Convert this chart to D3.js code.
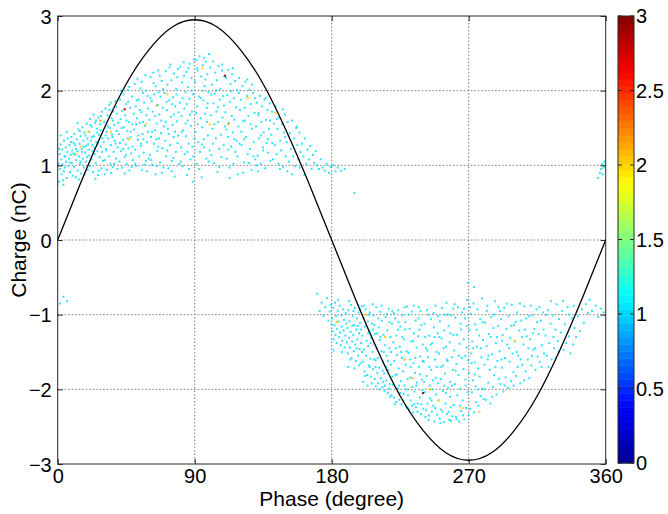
<!DOCTYPE html>
<html>
<head>
<meta charset="utf-8">
<script src="https://cdn.jsdelivr.net/npm/d3@7"></script>
<style>
  body { margin: 0; background: #fff; }
  svg { display: block; font-family: Arial, "Liberation Sans", sans-serif; }
</style>
</head>
<body>
<svg id="chart" width="668" height="514"></svg>
<script>
// axis ticks
const phaseTicks = [0, 90, 180, 270, 360];
const chargeTicks = [-3, -2, -1, 0, 1, 2, 3];
const cbarTicks = [0, 0.5, 1, 1.5, 2, 2.5, 3];

// reference voltage, read every 15 degrees (nC scale)
const wavePhase = [0, 15, 30, 45, 60, 75, 90, 105, 120, 135, 150, 165, 180, 195, 210, 225, 240, 255, 270, 285, 300, 315, 330, 345, 360];
const waveCharge = [0, 0.76, 1.47, 2.09, 2.55, 2.85, 2.95, 2.85, 2.55, 2.09, 1.47, 0.76, 0, -0.76, -1.47, -2.09, -2.55, -2.85, -2.95, -2.85, -2.55, -2.09, -1.47, -0.76, 0];

// discharge pulses [phase, charge], positive half cycle (count value ~1)
const posPulses = [
[0.5,1.02],[0.8,0.78],[1.2,1.15],[1.5,0.95],[1.9,1.28],[2.3,1.08],[2.6,0.88],[3.0,1.21],[3.3,1.01],[3.7,0.74],[4.1,1.33],[4.4,1.12],[4.8,0.97],[5.2,1.24],[5.5,1.05],[5.9,0.83],[6.3,1.18],[6.6,1.36],[7.0,0.99],[7.4,1.09],[7.7,1.27],[8.1,0.91],[8.5,1.14],[8.8,1.31],[9.2,1.03],[9.6,1.2],[9.9,0.86],[2.0,1.4],[6.0,1.45],[4.0,0.92],[7.9,1.04],[1.0,1.22],[5.0,1.12],[3.5,0.8],[9.0,1.38],
[10.3,1.16],[10.7,0.98],[11.0,1.42],[11.4,1.27],[11.8,0.84],[12.1,1.07],[12.5,1.35],[12.9,1.19],[13.2,0.93],[13.6,1.48],[14.0,1.12],[14.3,1.29],[14.7,1.02],[15.1,1.39],[15.4,0.89],[15.8,1.22],[16.2,1.51],[16.5,1.09],[16.9,1.33],[17.3,0.97],[17.6,1.44],[18.0,1.17],[18.4,1.26],[18.7,1.05],[19.1,1.56],[19.5,1.36],[19.8,0.94],[10.5,1.3],[12.0,1.22],[13.8,0.81],[15.0,1.05],[16.0,1.18],[17.0,1.25],[18.2,1.4],[19.3,1.11],[11.2,1.14],[14.5,1.46],[17.8,0.88],[19.9,1.28],[13.0,1.57],
[20.2,1.21],[20.6,1.45],[21.0,0.99],[21.3,1.62],[21.7,1.33],[22.1,1.08],[22.4,1.52],[22.8,1.27],[23.2,0.91],[23.5,1.68],[23.9,1.39],[24.3,1.15],[24.6,1.57],[25.0,1.03],[25.4,1.31],[25.7,1.49],[26.1,1.19],[26.5,0.87],[26.8,1.64],[27.2,1.41],[27.6,1.11],[27.9,1.55],[28.3,1.25],[28.7,0.96],[29.0,1.72],[29.4,1.36],[29.8,1.06],[20.8,1.13],[22.6,1.38],[24.0,1.24],[25.2,1.6],[26.0,1.44],[27.0,0.93],[28.0,1.47],[29.2,1.18],[21.5,1.54],[23.0,1.19],[24.8,0.82],[26.3,1.29],[28.5,1.66],
[30.2,1.31],[30.6,1.58],[31.0,1.07],[31.3,1.76],[31.7,1.22],[32.1,1.45],[32.4,0.94],[32.8,1.67],[33.2,1.36],[33.5,1.12],[33.9,1.81],[34.3,1.5],[34.6,1.02],[35.0,1.27],[35.4,1.63],[35.7,1.41],[36.1,0.98],[36.5,1.72],[36.8,1.18],[37.2,1.54],[37.6,1.33],[37.9,1.86],[38.3,1.09],[38.7,1.46],[39.0,1.69],[39.4,1.24],[39.8,1.57],[30.9,0.88],[32.0,1.2],[33.0,1.52],[34.0,1.74],[35.2,0.9],[36.0,1.38],[37.0,1.02],[38.0,1.29],[39.2,0.95],[31.5,1.4],[34.8,1.84],[36.3,1.6],[38.5,1.78],
[40.2,1.42],[40.6,1.05],[41.0,1.88],[41.3,1.62],[41.7,1.19],[42.1,1.73],[42.4,0.97],[42.8,1.34],[43.2,1.95],[43.5,1.51],[43.9,1.11],[44.3,1.67],[44.6,1.28],[45.0,1.82],[45.4,1.02],[45.7,1.46],[46.1,2.01],[46.5,1.23],[46.8,1.58],[47.2,0.93],[47.6,1.77],[47.9,1.38],[48.3,1.16],[48.7,1.92],[49.0,1.55],[49.4,1.07],[49.8,1.69],[40.9,1.3],[42.0,1.5],[43.0,1.22],[44.0,0.89],[45.2,1.6],[46.0,1.36],[47.0,2.05],[48.0,1.45],[49.2,1.25],[41.5,2.0],[44.8,1.14],[46.3,1.85],[48.5,0.98],
[50.2,1.48],[50.6,2.09],[51.0,1.21],[51.3,1.79],[51.7,0.99],[52.1,1.63],[52.4,2.16],[52.8,1.34],[53.2,1.88],[53.5,1.12],[53.9,1.57],[54.3,2.03],[54.6,1.26],[55.0,1.71],[55.4,0.94],[55.7,1.42],[56.1,1.97],[56.5,1.17],[56.8,1.84],[57.2,1.53],[57.6,2.21],[57.9,1.06],[58.3,1.67],[58.7,1.31],[59.0,1.93],[59.4,1.45],[59.8,1.09],[50.9,1.02],[52.0,1.87],[53.0,1.4],[54.0,1.74],[55.2,2.12],[56.0,1.58],[57.0,1.01],[58.0,2.0],[59.2,1.76],[51.5,1.55],[54.8,1.29],[56.3,1.35],[58.5,0.92],
[60.2,1.61],[60.6,1.14],[61.0,2.18],[61.3,1.38],[61.7,1.86],[62.1,1.01],[62.4,1.72],[62.8,2.24],[63.2,1.29],[63.5,1.95],[63.9,1.47],[64.3,0.88],[64.6,2.06],[65.0,1.56],[65.4,1.19],[65.7,1.81],[66.1,2.27],[66.5,1.36],[66.8,1.68],[67.2,1.04],[67.6,1.92],[67.9,1.43],[68.3,2.13],[68.7,1.23],[69.0,1.77],[69.4,0.97],[69.8,1.52],[60.9,1.9],[62.0,1.45],[63.0,2.1],[64.0,1.66],[65.2,0.99],[66.0,1.25],[67.0,2.2],[68.0,1.6],[69.2,2.02],[61.5,1.07],[64.8,1.35],[66.3,1.98],[68.5,0.9],
[70.2,1.97],[70.6,1.33],[71.0,2.26],[71.3,1.12],[71.7,1.74],[72.1,2.08],[72.4,1.49],[72.8,0.96],[73.2,1.87],[73.5,2.31],[73.9,1.27],[74.3,1.65],[74.6,2.14],[75.0,1.06],[75.4,1.54],[75.7,1.91],[76.1,1.38],[76.5,2.23],[76.8,0.85],[77.2,1.79],[77.6,1.18],[77.9,2.02],[78.3,1.59],[78.7,1.3],[79.0,2.29],[79.4,1.71],[79.8,1.02],[70.9,1.58],[72.0,1.2],[73.0,1.42],[74.0,2.35],[75.2,1.82],[76.0,1.1],[77.0,1.45],[78.0,1.95],[79.2,1.4],[71.5,1.85],[74.8,0.92],[76.3,1.68],[78.5,2.18],
[80.2,1.84],[80.6,2.32],[81.0,1.24],[81.3,1.66],[81.7,2.11],[82.1,0.99],[82.4,1.47],[82.8,2.38],[83.2,1.76],[83.5,1.15],[83.9,1.98],[84.3,1.39],[84.6,2.25],[85.0,0.87],[85.4,1.6],[85.7,2.05],[86.1,1.29],[86.5,1.89],[86.8,2.36],[87.2,1.08],[87.6,1.53],[87.9,2.17],[88.3,1.72],[88.7,0.78],[89.0,1.95],[89.4,2.42],[89.8,1.36],[80.9,1.05],[82.0,1.9],[83.0,2.2],[84.0,1.56],[85.2,1.18],[86.0,2.3],[87.0,1.68],[88.0,2.0],[89.2,1.12],[81.5,1.45],[84.8,1.82],[86.3,0.95],[88.5,1.25],
[90.2,2.12],[90.6,1.45],[91.0,2.41],[91.3,1.02],[91.7,1.79],[92.1,2.27],[92.4,1.31],[92.8,1.92],[93.2,2.46],[93.5,1.18],[93.9,1.63],[94.3,2.19],[94.6,0.84],[95.0,1.51],[95.4,2.34],[95.7,1.87],[96.1,1.24],[96.5,2.06],[96.8,1.69],[97.2,2.39],[97.6,1.09],[97.9,1.77],[98.3,2.22],[98.7,1.4],[99.0,1.98],[99.4,2.49],[99.8,1.2],[90.9,1.7],[92.0,1.55],[93.0,0.95],[94.0,1.9],[95.2,2.0],[96.0,1.35],[97.0,2.15],[98.0,1.58],[99.2,1.05],[91.5,2.3],[94.8,1.28],[96.3,2.44],[98.5,1.83],
[100.2,2.31],[100.6,1.67],[101.0,1.14],[101.3,2.08],[101.7,1.49],[102.1,2.39],[102.4,1.83],[102.8,1.03],[103.2,1.96],[103.5,2.24],[103.9,1.36],[104.3,1.72],[104.6,2.14],[105.0,0.91],[105.4,1.58],[105.7,2.33],[106.1,1.22],[106.5,1.88],[106.8,2.02],[107.2,1.41],[107.6,1.11],[107.9,2.27],[108.3,1.64],[108.7,1.93],[109.0,1.27],[109.4,2.19],[109.8,1.52],[100.9,1.95],[102.0,1.29],[104.0,2.0],[105.2,1.78],[106.0,0.98],[108.0,2.35],[109.2,1.8],[103.0,1.55],
[110.2,1.71],[110.6,2.17],[111.0,1.09],[111.3,1.94],[111.7,1.38],[112.1,2.28],[112.4,1.57],[112.8,0.97],[113.2,1.85],[113.5,2.09],[113.9,1.25],[114.3,1.66],[114.6,2.22],[115.0,1.44],[115.4,1.02],[115.7,1.9],[116.1,1.61],[116.5,2.13],[116.8,1.18],[117.2,1.78],[117.6,1.33],[117.9,2.01],[118.3,0.88],[118.7,1.52],[119.0,1.97],[119.4,1.29],[119.8,1.74],[110.9,1.48],[112.0,1.21],[114.0,1.99],[115.2,2.3],[116.0,1.35],[118.0,1.12],[119.2,2.17],[113.0,0.83],
[120.3,1.88],[120.8,1.27],[121.3,2.06],[121.8,1.59],[122.3,1.04],[122.8,1.77],[123.3,2.12],[123.8,1.38],[124.3,1.93],[124.8,1.15],[125.3,1.66],[125.8,2.01],[126.3,1.22],[126.8,1.82],[127.3,0.94],[127.8,1.49],[128.3,1.97],[128.8,1.31],[129.3,1.7],[129.8,1.08],[120.6,1.45],[121.9,0.9],[123.0,1.6],[124.5,2.15],[125.6,1.03],[126.6,1.55],[127.6,2.08],[128.6,1.12],[129.6,1.9],[122.5,1.35],
[130.3,1.52],[130.8,1.84],[131.3,1.13],[131.8,1.67],[132.3,1.36],[132.8,1.93],[133.3,1.02],[133.8,1.58],[134.3,1.79],[134.8,1.24],[135.3,1.44],[135.8,1.88],[136.3,0.96],[136.8,1.61],[137.3,1.3],[137.8,1.74],[138.3,1.17],[138.8,1.49],[139.3,1.83],[139.8,1.06],[130.6,1.0],[132.0,1.7],[133.6,1.4],[135.0,1.2],[136.6,1.9],[138.0,1.35],[139.5,1.6],[131.5,0.92],
[140.3,1.41],[140.8,1.72],[141.4,1.08],[142.0,1.56],[142.6,1.27],[143.2,1.79],[143.8,1.15],[144.4,1.49],[145.0,1.02],[145.6,1.64],[146.2,1.33],[146.8,1.2],[147.4,1.55],[148.0,0.98],[148.6,1.44],[149.2,1.68],[149.8,1.12],[141.0,1.3],[144.0,1.62],[146.0,0.95],[147.8,1.75],[149.5,1.38],
[150.4,1.31],[151.1,1.58],[151.8,1.05],[152.5,1.43],[153.2,1.22],[153.9,1.6],[154.6,1.12],[155.3,1.36],[156.0,0.99],[156.7,1.5],[157.4,1.27],[158.1,1.08],[158.8,1.44],[159.5,1.18],[150.9,0.92],[154.0,0.88],[157.0,1.52],[159.0,0.97],
[160.5,1.29],[161.4,1.12],[162.3,1.36],[163.2,1.02],[164.1,1.21],[165.0,1.08],[165.9,1.26],[166.8,0.95],[167.7,1.14],[168.6,1.03],[169.5,1.19],[162.0,0.87],
[170.5,1.0],[171.6,0.95],[172.8,1.08],[174.0,0.97],[175.5,0.93],[176.7,1.02],[178.2,0.9],[179.3,0.98],
[181.0,1.0],[182.5,0.92],[184.0,0.97],[186.0,0.93],[188.5,0.95],[195.0,0.63],
[355.0,0.83],[356.2,0.9],[357.0,0.95],[357.8,1.02],[358.5,0.97],[359.2,1.05],[359.6,0.99],[358.0,0.88]
];

// negative half cycle
const negPulses = [
[1.5,-0.85],[3.8,-0.76],[6.2,-0.82],
[170.5,-0.72],[172.0,-0.95],[173.4,-0.84],[174.6,-1.02],[175.8,-0.9],[176.9,-0.78],[177.8,-1.08],[178.7,-0.96],[179.5,-0.87],[179.9,-1.13],
[180.2,-1.05],[180.6,-1.22],[181.0,-0.91],[181.4,-1.33],[181.8,-1.14],[182.1,-0.84],[182.5,-1.27],[182.9,-1.02],[183.3,-1.38],[183.6,-1.19],[184.0,-0.95],[184.4,-1.09],[184.8,-1.3],[185.1,-0.88],[185.5,-1.24],[185.9,-1.41],[186.3,-1.01],[186.6,-1.16],[187.0,-1.35],[187.4,-0.93],[187.8,-1.21],[188.1,-1.07],[188.5,-1.44],[188.9,-1.28],[189.3,-0.98],[189.6,-1.12],[190.0,-1.37],[181.2,-1.48],[184.2,-0.8],[186.8,-1.5],
[190.3,-1.18],[190.6,-1.52],[191.0,-0.94],[191.3,-1.31],[191.7,-1.09],[192.0,-1.44],[192.4,-1.23],[192.7,-0.87],[193.1,-1.58],[193.4,-1.36],[193.8,-1.02],[194.1,-1.27],[194.5,-1.49],[194.8,-1.14],[195.2,-0.91],[195.5,-1.4],[195.9,-1.62],[196.2,-1.2],[196.6,-1.05],[196.9,-1.33],[197.3,-1.55],[197.6,-0.97],[198.0,-1.25],[198.3,-1.46],[198.7,-1.11],[199.0,-1.65],[199.4,-1.38],[199.7,-0.89],[190.9,-1.7],[192.2,-1.6],[193.6,-1.15],[195.0,-1.72],[196.4,-1.45],[197.9,-1.68],[199.2,-1.2],[191.5,-0.82],[194.3,-0.95],[197.1,-1.15],[198.5,-0.93],[199.9,-1.5],
[200.2,-1.28],[200.5,-1.63],[200.9,-1.04],[201.2,-1.47],[201.6,-1.76],[201.9,-1.16],[202.3,-0.93],[202.6,-1.55],[203.0,-1.35],[203.3,-1.81],[203.7,-1.09],[204.0,-1.42],[204.4,-1.68],[204.7,-1.22],[205.1,-0.97],[205.4,-1.59],[205.8,-1.83],[206.1,-1.31],[206.5,-1.12],[206.8,-1.5],[207.2,-1.73],[207.5,-1.01],[207.9,-1.39],[208.2,-1.86],[208.6,-1.26],[208.9,-1.61],[209.3,-0.9],[209.6,-1.45],[209.9,-1.78],[200.7,-1.9],[202.0,-1.82],[203.5,-1.95],[205.0,-1.7],[206.3,-1.92],[207.7,-1.6],[209.0,-1.96],[201.4,-0.88],[204.2,-1.0],[206.9,-0.86],[208.0,-1.14],[203.9,-1.25],[205.6,-1.38],[207.0,-1.2],[208.8,-1.7],[209.8,-1.25],
[210.2,-1.58],[210.5,-1.92],[210.9,-1.17],[211.2,-1.71],[211.6,-1.34],[211.9,-0.96],[212.3,-1.85],[212.6,-1.49],[213.0,-1.08],[213.3,-1.97],[213.7,-1.63],[214.0,-1.27],[214.4,-1.79],[214.7,-2.02],[215.1,-1.41],[215.4,-1.03],[215.8,-1.88],[216.1,-1.55],[216.5,-1.21],[216.8,-2.05],[217.2,-1.74],[217.5,-0.92],[217.9,-1.45],[218.2,-1.93],[218.6,-1.3],[218.9,-1.67],[219.3,-2.08],[219.6,-1.12],[219.9,-1.83],[210.7,-1.05],[212.0,-1.3],[213.5,-1.75],[215.0,-1.95],[216.3,-0.99],[217.7,-1.99],[219.0,-1.5],[211.4,-2.0],[214.2,-1.5],[216.9,-1.62],[218.0,-1.1],[212.8,-0.88],[215.6,-1.7],[218.4,-2.1],[219.8,-0.95],[213.9,-1.9],
[220.2,-1.94],[220.5,-1.37],[220.9,-2.11],[221.2,-1.62],[221.6,-1.05],[221.9,-1.81],[222.3,-2.17],[222.6,-1.28],[223.0,-1.54],[223.3,-1.99],[223.7,-0.94],[224.0,-1.72],[224.4,-2.14],[224.7,-1.43],[225.1,-1.16],[225.4,-1.89],[225.8,-2.2],[226.1,-1.58],[226.5,-1.01],[226.8,-1.76],[227.2,-2.06],[227.5,-1.33],[227.9,-1.95],[228.2,-1.2],[228.6,-1.67],[228.9,-2.23],[229.3,-1.49],[229.6,-0.89],[229.9,-1.86],[220.7,-0.98],[222.0,-1.45],[223.5,-1.2],[225.0,-2.05],[226.3,-1.3],[227.7,-1.6],[229.0,-2.0],[221.4,-2.2],[224.2,-1.95],[226.9,-2.15],[228.0,-0.9],[222.8,-1.8],[225.6,-1.5],[228.4,-1.1],[229.8,-2.25],[223.9,-1.1],
[230.2,-2.08],[230.5,-1.51],[230.9,-2.27],[231.2,-1.19],[231.6,-1.84],[231.9,-2.15],[232.3,-1.36],[232.6,-0.96],[233.0,-1.97],[233.3,-2.31],[233.7,-1.65],[234.0,-1.25],[234.4,-2.03],[234.7,-1.78],[235.1,-1.08],[235.4,-2.24],[235.8,-1.44],[236.1,-1.91],[236.5,-2.19],[236.8,-1.29],[237.2,-0.9],[237.5,-1.7],[237.9,-2.11],[238.2,-1.56],[238.6,-2.33],[238.9,-1.14],[239.3,-1.87],[239.6,-2.01],[239.9,-1.4],[230.7,-1.0],[232.0,-1.7],[233.5,-1.35],[235.0,-1.58],[236.3,-2.3],[237.7,-1.2],[239.0,-2.2],[231.4,-1.6],[234.2,-2.2],[236.9,-1.05],[238.0,-1.8],[232.8,-2.22],[235.6,-1.95],[238.4,-0.95],[239.8,-1.62],[233.9,-0.88],
[240.2,-2.26],[240.5,-1.63],[240.9,-1.12],[241.2,-2.04],[241.6,-2.37],[241.9,-1.45],[242.3,-1.82],[242.6,-0.94],[243.0,-2.19],[243.3,-1.57],[243.7,-2.41],[244.0,-1.28],[244.4,-1.95],[244.7,-2.12],[245.1,-1.06],[245.4,-1.74],[245.8,-2.3],[246.1,-1.38],[246.5,-1.88],[246.8,-2.22],[247.2,-1.17],[247.5,-2.43],[247.9,-1.6],[248.2,-0.88],[248.6,-2.07],[248.9,-1.5],[249.3,-2.34],[249.6,-1.25],[249.9,-1.92],[240.7,-1.9],[242.0,-2.28],[243.5,-1.0],[245.0,-1.4],[246.3,-2.0],[247.7,-1.3],[249.0,-1.7],[241.4,-1.3],[244.2,-1.7],[246.9,-0.98],[248.0,-2.25],[242.8,-1.48],[245.6,-2.15],[248.4,-1.85],[249.8,-1.02],[243.9,-2.35],
[250.2,-2.15],[250.5,-1.52],[250.9,-2.39],[251.2,-1.09],[251.6,-1.86],[251.9,-2.27],[252.3,-1.32],[252.6,-0.91],[253.0,-2.02],[253.3,-1.68],[253.7,-2.44],[254.0,-1.21],[254.4,-1.79],[254.7,-2.19],[255.1,-1.43],[255.4,-0.84],[255.8,-2.33],[256.1,-1.62],[256.5,-1.98],[256.8,-1.15],[257.2,-2.41],[257.5,-1.37],[257.9,-1.9],[258.2,-2.24],[258.6,-1.01],[258.9,-1.57],[259.3,-2.36],[259.6,-1.74],[259.9,-1.27],[250.7,-1.3],[252.0,-1.7],[253.5,-1.45],[255.0,-2.05],[256.3,-1.0],[257.7,-2.1],[259.0,-1.95],[251.4,-2.45],[254.2,-1.0],[256.9,-2.3],[258.0,-1.25],[252.8,-2.3],[255.6,-1.6],[258.4,-2.42],[259.8,-0.92],[253.9,-1.95],
[260.2,-2.21],[260.5,-1.48],[260.9,-1.93],[261.2,-1.04],[261.6,-2.37],[261.9,-1.66],[262.3,-1.27],[262.6,-2.08],[263.0,-0.9],[263.3,-1.81],[263.7,-2.43],[264.0,-1.39],[264.4,-1.99],[264.7,-1.12],[265.1,-2.29],[265.4,-1.58],[265.8,-0.97],[266.1,-2.15],[266.5,-1.73],[266.8,-1.33],[267.2,-2.4],[267.5,-1.05],[267.9,-1.87],[268.2,-2.25],[268.6,-1.44],[268.9,-0.8],[269.3,-2.04],[269.6,-1.61],[269.9,-2.34],[260.7,-0.86],[262.0,-2.4],[263.5,-1.55],[265.0,-1.2],[266.3,-2.35],[267.7,-1.55],[269.0,-1.15],[261.4,-1.75],[264.2,-2.22],[266.9,-0.92],[268.0,-1.95],
[269.5,-0.57],[273.5,-0.63],
[270.2,-1.78],[270.6,-1.21],[271.0,-2.26],[271.3,-0.99],[271.7,-1.52],[272.1,-2.04],[272.4,-1.36],[272.8,-1.88],[273.2,-0.85],[273.5,-2.31],[273.9,-1.64],[274.3,-1.13],[274.6,-1.96],[275.0,-2.17],[275.4,-1.43],[275.7,-0.93],[276.1,-1.72],[276.5,-2.22],[276.8,-1.28],[277.2,-1.83],[277.6,-1.06],[277.9,-2.09],[278.3,-1.57],[278.7,-0.78],[279.0,-1.99],[279.4,-1.34],[279.8,-2.13],[270.9,-0.9],[272.0,-1.65],[274.0,-1.8],[275.2,-1.2],[276.3,-2.0],[278.0,-1.45],[279.2,-1.1],[273.0,-1.45],
[280.3,-1.67],[280.8,-1.11],[281.3,-2.14],[281.8,-1.42],[282.3,-0.88],[282.8,-1.91],[283.3,-1.26],[283.8,-1.74],[284.3,-2.19],[284.8,-1.03],[285.3,-1.53],[285.8,-1.97],[286.3,-1.18],[286.8,-1.81],[287.3,-0.82],[287.8,-1.38],[288.3,-2.07],[288.8,-1.62],[289.3,-1.15],[289.8,-1.86],[280.6,-2.0],[281.9,-0.95],[283.0,-1.55],[284.5,-1.3],[285.6,-2.1],[286.6,-1.0],[287.6,-1.7],[288.6,-1.3],[289.6,-0.9],[282.5,-1.6],
[290.3,-1.49],[290.8,-1.93],[291.3,-1.06],[291.8,-1.71],[292.3,-1.27],[292.8,-2.03],[293.3,-0.91],[293.8,-1.58],[294.3,-1.84],[294.8,-1.19],[295.3,-1.4],[295.8,-1.98],[296.3,-1.02],[296.8,-1.63],[297.3,-1.31],[297.8,-1.89],[298.3,-0.87],[298.8,-1.52],[299.3,-1.77],[299.8,-1.14],[290.6,-0.95],[292.0,-1.35],[293.6,-1.95],[295.0,-0.85],[296.6,-1.45],[298.0,-1.15],[299.5,-1.95],[291.5,-1.6],
[300.4,-1.36],[301.1,-1.82],[301.8,-0.97],[302.5,-1.55],[303.2,-1.21],[303.9,-1.92],[304.6,-1.08],[305.3,-1.67],[306.0,-1.4],[306.7,-0.89],[307.4,-1.76],[308.1,-1.29],[308.8,-1.6],[309.5,-1.02],[300.8,-1.1],[302.2,-1.7],[303.6,-0.85],[305.0,-1.3],[306.4,-1.88],[307.8,-1.05],[309.2,-1.45],[301.5,-1.5],[304.2,-1.6],[307.0,-1.2],[309.8,-1.85],
[310.4,-1.33],[311.1,-1.68],[311.8,-1.01],[312.5,-1.47],[313.2,-1.19],[313.9,-1.74],[314.6,-0.93],[315.3,-1.56],[316.0,-1.26],[316.7,-1.63],[317.4,-1.08],[318.1,-1.41],[318.8,-0.97],[319.5,-1.52],[310.8,-0.88],[312.2,-1.25],[313.6,-1.45],[315.0,-1.1],[316.4,-0.9],[317.8,-1.7],[319.2,-1.2],[311.5,-1.55],
[320.5,-1.28],[321.3,-1.55],[322.1,-0.94],[322.9,-1.38],[323.7,-1.12],[324.5,-1.6],[325.3,-1.01],[326.1,-1.45],[326.9,-1.2],[327.7,-0.86],[328.5,-1.35],[329.3,-1.06],[320.9,-1.0],[322.5,-1.7],[324.0,-0.82],[325.7,-1.3],[327.3,-1.58],[329.0,-1.5],
[330.5,-1.24],[331.4,-0.95],[332.3,-1.47],[333.2,-1.13],[334.1,-1.38],[335.0,-0.9],[335.9,-1.29],[336.8,-1.52],[337.7,-1.05],[338.6,-1.4],[339.5,-1.18],[332.0,-0.82],[336.0,-1.0],[339.0,-0.88],
[340.6,-1.3],[341.8,-1.02],[343.0,-1.22],[344.5,-0.93],[345.7,-1.11],[347.0,-0.86],[348.4,-0.98],[349.5,-0.8],
[351.0,-0.95],[353.5,-0.88],[355.0,-1.03],[357.0,-0.92],[358.6,-0.97]
];

// repeated pulses: [phase, charge, count]
const hotPulses = [
[12,1.15,2],[15,1.25,2],[20,1.45,2],[28,1.6,2.1],[35,1.45,2],[47,1.35,2],[58,1.55,2],[65,1.8,2.1],[72,1.95,2],[95,2.3,2],[100,1.55,2],[112,1.55,2.1],[125,1.9,2],[143,1.7,2],
[44,1.75,2.9],[110,2.2,2.9],
[183,-1.1,2],[202,-1.0,2],[215,-1.3,2],[228,-1.6,2],[233,-1.85,2.1],[245,-2.0,2],[250,-2.15,2],[266,-2.25,2],[277,-2.3,2],[300,-1.35,2],
[240,-2.05,2.9]
];
const baseCount = 1.02;

const svg = d3.select("#chart");
const margin = { left: 57.7, right: 605.7, top: 16, bottom: 464 };

const x = d3.scaleLinear().domain([0, 360]).range([margin.left, margin.right]);
const y = d3.scaleLinear().domain([-3, 3]).range([margin.bottom, margin.top]);

// jet colormap
const jet = d3.scaleLinear()
  .domain([0, 0.375, 1.125, 1.875, 2.625, 3])
  .range(["#00008f", "#0000ff", "#00ffff", "#ffff00", "#ff0000", "#800000"])
  .clamp(true);

const axisColor = "#262626";
const gridColor = "#7a7a7a";

// grid
const grid = svg.append("g");
grid.selectAll(".gx").data(phaseTicks.slice(1, -1)).join("line")
  .attr("x1", d => x(d)).attr("x2", d => x(d))
  .attr("y1", margin.top).attr("y2", margin.bottom)
  .attr("stroke", gridColor).attr("stroke-width", 1)
  .attr("stroke-dasharray", "1.5,2");
grid.selectAll(".gy").data(chargeTicks.slice(1, -1)).join("line")
  .attr("x1", margin.left).attr("x2", margin.right)
  .attr("y1", d => y(d)).attr("y2", d => y(d))
  .attr("stroke", gridColor).attr("stroke-width", 1)
  .attr("stroke-dasharray", "1.5,2");

// pulses
const dots = svg.append("g");
const allPulses = posPulses.concat(negPulses).map(d => [d[0], d[1], baseCount]).concat(hotPulses);
dots.selectAll("rect").data(allPulses).join("rect")
  .attr("x", d => x(d[0]) - 1)
  .attr("y", d => y(d[1]) - 1)
  .attr("width", 2).attr("height", 2)
  .attr("fill", d => jet(d[2]))
  .attr("fill-opacity", d => d[2] > 1.5 ? 1 : 0.8);

// reference sine
const wave = wavePhase.map((p, i) => [p, waveCharge[i]]);
svg.append("path")
  .datum(wave)
  .attr("fill", "none")
  .attr("stroke", "#000")
  .attr("stroke-width", 1.3)
  .attr("d", d3.line().x(d => x(d[0])).y(d => y(d[1])).curve(d3.curveNatural));

// axes box
svg.append("rect")
  .attr("x", margin.left).attr("y", margin.top)
  .attr("width", margin.right - margin.left).attr("height", margin.bottom - margin.top)
  .attr("fill", "none").attr("stroke", axisColor).attr("stroke-width", 1);

const fontSize = 20;
const xAxis = svg.append("g").attr("transform", `translate(0,${margin.bottom})`)
  .call(d3.axisBottom(x).tickValues(phaseTicks).tickSize(-5).tickPadding(5).tickFormat(d3.format("d")));
const yAxis = svg.append("g").attr("transform", `translate(${margin.left},0)`)
  .call(d3.axisLeft(y).tickValues(chargeTicks).tickSize(-5).tickPadding(6).tickFormat(d3.format("d")));
svg.append("g").attr("transform", `translate(0,${margin.top})`)
  .call(d3.axisTop(x).tickValues(phaseTicks).tickSize(-5).tickFormat(""));
svg.append("g").attr("transform", `translate(${margin.right},0)`)
  .call(d3.axisRight(y).tickValues(chargeTicks).tickSize(-5).tickFormat(""));

svg.selectAll(".domain").remove();
svg.selectAll(".tick line").attr("stroke", axisColor);
svg.selectAll(".tick text")
  .attr("fill", "#000")
  .style("font-size", fontSize + "px")
  .style("font-family", "Arial, 'Liberation Sans', sans-serif");
yAxis.selectAll(".tick text").attr("dy", "0.36em");

// axis labels
svg.append("text")
  .attr("x", (margin.left + margin.right) / 2).attr("y", 506)
  .attr("text-anchor", "middle")
  .style("font-size", "21px")
  .text("Phase (degree)");
svg.append("text")
  .attr("transform", `translate(26,${(margin.top + margin.bottom) / 2}) rotate(-90)`)
  .attr("text-anchor", "middle")
  .style("font-size", "21px")
  .text("Charge (nC)");

// colorbar
const cb = { x: 618, w: 16, top: 16, bottom: 463 };
const cy = d3.scaleLinear().domain([0, 3]).range([cb.bottom, cb.top]);
const steps = d3.range(64);
const cbar = svg.append("g");
cbar.selectAll("rect").data(steps).join("rect")
  .attr("x", cb.x)
  .attr("y", i => cy((i + 1) * 3 / 64))
  .attr("width", cb.w)
  .attr("height", i => cy(i * 3 / 64) - cy((i + 1) * 3 / 64) + 0.5)
  .attr("fill", i => jet((i + 0.5) * 3 / 64));
cbar.append("rect")
  .attr("x", cb.x).attr("y", cb.top)
  .attr("width", cb.w).attr("height", cb.bottom - cb.top)
  .attr("fill", "none").attr("stroke", axisColor).attr("stroke-width", 1);
cbar.selectAll(".cbt").data(cbarTicks).join("line")
  .attr("x1", cb.x + cb.w - 4).attr("x2", cb.x + cb.w)
  .attr("y1", d => cy(d)).attr("y2", d => cy(d))
  .attr("stroke", axisColor);
cbar.selectAll(".cbl").data(cbarTicks).join("line")
  .attr("x1", cb.x).attr("x2", cb.x + 4)
  .attr("y1", d => cy(d)).attr("y2", d => cy(d))
  .attr("stroke", axisColor);
cbar.selectAll("text").data(cbarTicks).join("text")
  .attr("x", cb.x + cb.w + 2)
  .attr("y", d => cy(d))
  .attr("dy", "0.36em")
  .style("font-size", fontSize + "px")
  .text(d => d3.format("")(d));
</script>
</body>
</html>
